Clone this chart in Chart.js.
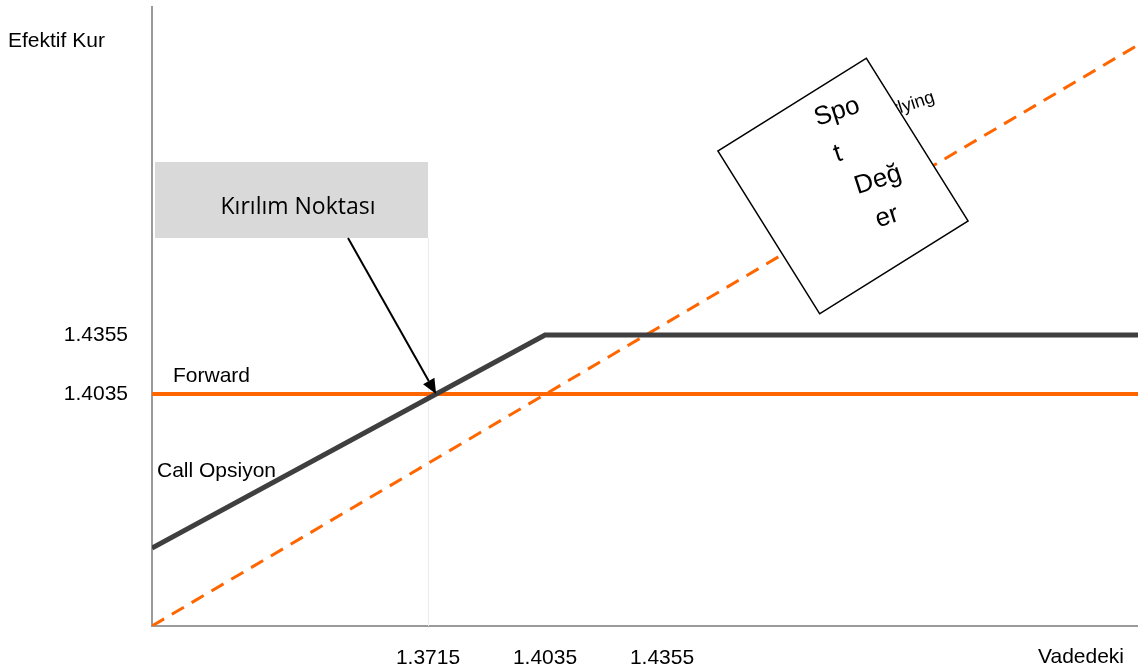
<!DOCTYPE html>
<html lang="tr">
<head>
<meta charset="utf-8">
<title>Call Opsiyon ve Forward – Efektif Kur</title>
<script src="https://cdn.jsdelivr.net/npm/chart.js@4.4.1/dist/chart.umd.min.js"></script>
<style>
  html, body { margin: 0; padding: 0; background: #ffffff; }
  canvas { display: block; }
</style>
</head>
<body>
<canvas id="payoff" width="1138" height="670"></canvas>
<script>
// Vadedeki spot kur (x) ile efektif kur (y) değerleri
const spotX = [1.2960, 1.5657];
const spotY = [1.2777, 1.5928];

const forwardX = [1.2960, 1.5657];
const forwardY = [1.4035, 1.4035];

const callX = [1.2960, 1.4035, 1.5657];
const callY = [1.3200, 1.4355, 1.4355];

// Eksen etiketleri
const xTickValues = [1.3715, 1.4035, 1.4355];
const yTickValues = [1.4035, 1.4355];
const breakEven = 1.3715;

// Eksen sınırları
const X_MIN = 1.2960, X_MAX = 1.5657;
const Y_MIN = 1.2777, Y_MAX = 1.6134;

const FONT = "'Liberation Sans', Arial, Helvetica, sans-serif";

function toPoints(xs, ys) {
  return xs.map((x, i) => ({ x: x, y: ys[i] }));
}

// Call ve forward doğrularının kesişimi (kırılım noktası)
function callForwardCrossing() {
  const x0 = callX[0], y0 = callY[0], x1 = callX[1], y1 = callY[1];
  const f = forwardY[0];
  return { x: x0 + (f - y0) * (x1 - x0) / (y1 - y0), y: f };
}

// eksenlerin kenar boşluklarını sıfırla, çizim alanı sabit kalsın
function fixAxis(size, key) {
  return (s) => {
    s[key] = size;
    s.paddingTop = 0; s.paddingBottom = 0;
    s.paddingLeft = 0; s.paddingRight = 0;
  };
}

const annotations = {
  id: 'annotations',
  beforeDatasetsDraw(chart) {
    const { ctx, chartArea, scales: { x } } = chart;
    const bx = x.getPixelForValue(breakEven);
    ctx.save();
    // kırılım noktası kutusu
    const boxTop = 162, boxBottom = 238;
    ctx.fillStyle = '#d9d9d9';
    ctx.fillRect(chartArea.left + 3, boxTop, bx - chartArea.left - 3, boxBottom - boxTop);
    ctx.strokeStyle = '#ececec';
    ctx.lineWidth = 1;
    ctx.beginPath();
    ctx.moveTo(Math.round(bx) + 0.5, boxBottom);
    ctx.lineTo(Math.round(bx) + 0.5, chartArea.bottom);
    ctx.stroke();
    ctx.fillStyle = '#000';
    ctx.font = "23px 'Open Sans', 'Noto Sans', sans-serif";
    ctx.textAlign = 'center';
    ctx.textBaseline = 'alphabetic';
    ctx.fillText('Kırılım Noktası', (chartArea.left + bx) / 2 + 8, 214);
    ctx.restore();
  },
  afterDatasetsDraw(chart) {
    const { ctx, chartArea, scales: { x, y } } = chart;
    ctx.save();

    // eksen başlıkları ve seri adları
    ctx.fillStyle = '#000';
    ctx.font = '21px ' + FONT;
    ctx.textBaseline = 'alphabetic';
    ctx.textAlign = 'left';
    ctx.fillText('Efektif Kur', 8, 47);
    ctx.fillText('Vadedeki', 1038, 663);
    ctx.fillText('Forward', chartArea.left + 21, y.getPixelForValue(forwardY[0]) - 12);
    ctx.fillText('Call Opsiyon', chartArea.left + 5, 477);

    // kırılım noktasına ok
    const cross = callForwardCrossing();
    const tx = x.getPixelForValue(cross.x), ty = y.getPixelForValue(cross.y);
    const sx = 348, sy = 238;
    const ang = Math.atan2(ty - sy, tx - sx);
    const headLen = 15, headW = 6.5;
    const baseX = tx - headLen * Math.cos(ang), baseY = ty - headLen * Math.sin(ang);
    ctx.strokeStyle = '#000';
    ctx.lineWidth = 2;
    ctx.beginPath();
    ctx.moveTo(sx, sy);
    ctx.lineTo(baseX, baseY);
    ctx.stroke();
    ctx.fillStyle = '#000';
    ctx.beginPath();
    ctx.moveTo(tx, ty);
    ctx.lineTo(baseX + headW * Math.sin(ang), baseY - headW * Math.cos(ang));
    ctx.lineTo(baseX - headW * Math.sin(ang), baseY + headW * Math.cos(ang));
    ctx.closePath();
    ctx.fill();

    // spot değer etiketi (döndürülmüş kutu)
    const textAng = -18 * Math.PI / 180;
    ctx.save();
    ctx.translate(934, 97);
    ctx.rotate(textAng);
    ctx.font = '18px ' + FONT;
    ctx.textAlign = 'right';
    ctx.textBaseline = 'middle';
    ctx.fillText('Underlying', 0, 0);
    ctx.restore();

    const cx = 843, cy = 186;
    ctx.save();
    ctx.translate(cx, cy);
    ctx.rotate(-32 * Math.PI / 180);
    ctx.fillStyle = '#ffffff';
    ctx.fillRect(-87.5, -96, 175, 192);
    ctx.strokeStyle = '#000';
    ctx.lineWidth = 1.5;
    ctx.strokeRect(-87.5, -96, 175, 192);
    ctx.restore();

    const lines = [
      ['Spo', -6, -74],
      ['t', -5, -32],
      ['Değ', 35, -6],
      ['er', 44, 31]
    ];
    ctx.font = '26px ' + FONT;
    ctx.fillStyle = '#000';
    ctx.textAlign = 'center';
    ctx.textBaseline = 'middle';
    lines.forEach(([txt, dx, dy]) => {
      ctx.save();
      ctx.translate(cx + dx, cy + dy);
      ctx.rotate(textAng);
      ctx.fillText(txt, 0, 0);
      ctx.restore();
    });

    ctx.restore();
  }
};

new Chart(document.getElementById('payoff'), {
  type: 'scatter',
  data: {
    datasets: [
      {
        label: 'Call Opsiyon',
        data: toPoints(callX, callY),
        showLine: true,
        borderColor: '#3f3f3f',
        borderWidth: 5,
        pointRadius: 0,
        order: 1
      },
      {
        label: 'Forward',
        data: toPoints(forwardX, forwardY),
        showLine: true,
        borderColor: '#ff6600',
        borderWidth: 4,
        pointRadius: 0,
        order: 2
      },
      {
        label: 'Spot Değer',
        data: toPoints(spotX, spotY),
        showLine: true,
        borderColor: '#ff6600',
        borderWidth: 3,
        borderDash: [14, 9],
        pointRadius: 0,
        order: 3
      }
    ]
  },
  options: {
    responsive: false,
    animation: false,
    devicePixelRatio: 1,
    layout: { padding: { left: 0, right: 0, top: 7, bottom: 0 } },
    plugins: {
      legend: { display: false },
      tooltip: { enabled: false }
    },
    scales: {
      x: {
        type: 'linear',
        min: X_MIN,
        max: X_MAX,
        afterBuildTicks: (s) => { s.ticks = xTickValues.map(v => ({ value: v })); },
        afterFit: fixAxis(44, 'height'),
        grid: { display: false, drawTicks: false },
        border: { display: true, color: '#9a9a9a', width: 2 },
        ticks: {
          color: '#000',
          font: { family: FONT, size: 21 },
          padding: 20,
          maxRotation: 0,
          autoSkip: false,
          callback: (v) => Number(v).toFixed(4)
        }
      },
      y: {
        type: 'linear',
        min: Y_MIN,
        max: Y_MAX,
        afterBuildTicks: (s) => { s.ticks = yTickValues.map(v => ({ value: v })); },
        afterFit: fixAxis(152, 'width'),
        grid: { display: false, drawTicks: false },
        border: { display: true, color: '#9a9a9a', width: 2 },
        ticks: {
          color: '#000',
          font: { family: FONT, size: 21 },
          padding: 24,
          autoSkip: false,
          callback: (v) => Number(v).toFixed(4)
        }
      }
    }
  },
  plugins: [annotations]
});
</script>
</body>
</html>
